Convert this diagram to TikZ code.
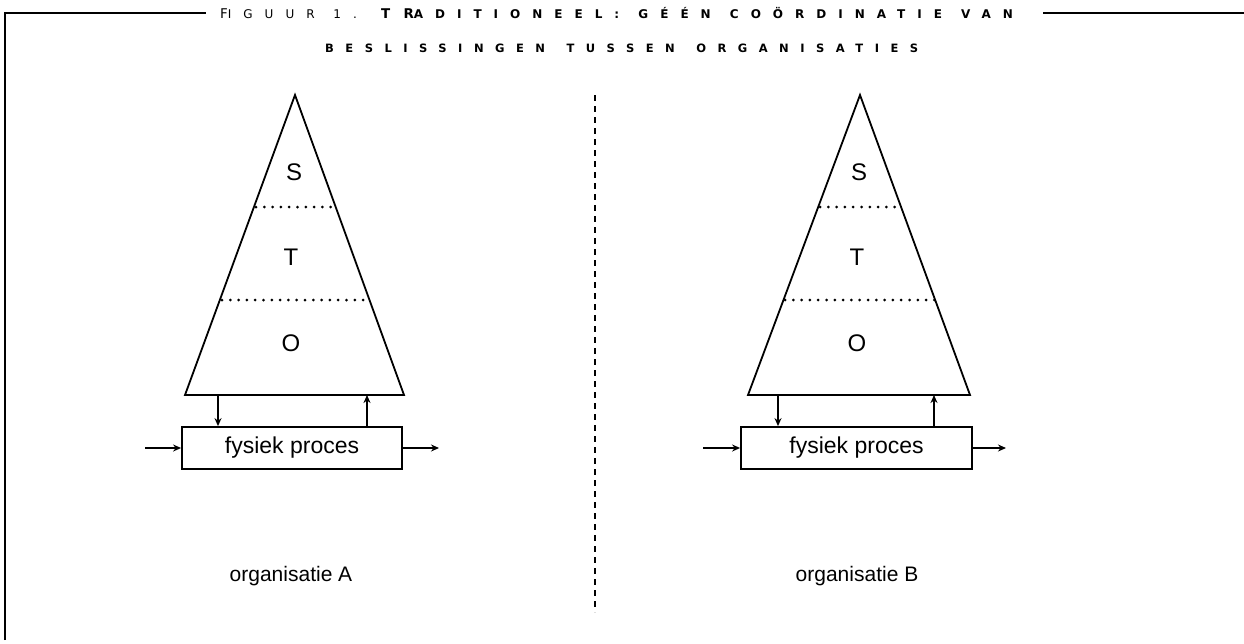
\documentclass[tikz,border=0pt]{standalone}
\usepackage{fontspec}
\setmainfont{Liberation Sans}
\newfontfamily\titlefont[LetterSpace=100]{DejaVu Sans}
\usetikzlibrary{arrows.meta}
\tikzset{
  edge/.style={line width=1.8pt, line join=miter},
  sep/.style={line width=3pt, line cap=round, dash pattern=on 0pt off 8.3pt},
  arr/.style={line width=1.5pt, -{Stealth[length=8pt,width=7pt]}},
  procbox/.style={draw, line width=1.8pt, minimum width=220pt, minimum height=42pt, inner sep=0pt, font=\fontsize{23}{27}\selectfont},
  level/.style={font=\fontsize{24}{28}\selectfont, inner sep=0pt},
  orglabel/.style={font=\fontsize{21}{25}\selectfont, inner sep=0pt},
  frame/.style={line width=1.6pt},
}
\newcommand\bigL[1]{{\fontsize{13.4}{14}\selectfont #1}}
\begin{document}
\begin{tikzpicture}[x=1pt,y=-1pt]
\useasboundingbox (0,0) rectangle (1244,643);
% title
\node[anchor=base west, inner sep=0pt] (t1) at (220,18.5) {\titlefont\fontsize{12}{14}\selectfont \bigL{F}IGUUR\hspace{3pt} 1.\hspace{3pt} \bfseries\bigL{TR}ADITIONEEL:\hspace{3pt} GÉÉN\hspace{3pt} COÖRDINATIE\hspace{3pt} VAN};
\node[anchor=base west, inner sep=0pt] (t2) at (325,52) {\titlefont\bfseries\fontsize{11.5}{14}\selectfont BESLISSINGEN\hspace{6pt} TUSSEN\hspace{6pt} ORGANISATIES};
\coordinate (fb) at (5,640);
\coordinate (fc) at (5,13);
\coordinate (fd) at (206,13);
\coordinate (ff) at (1043,13);
\coordinate (fe) at (1244,13);
\draw[frame] (fb) -- (fc) -- (fd);
\draw[frame] (ff) -- (fe);
% divider
\coordinate (d1) at (595,95);
\coordinate (d2) at (595,612);
\draw[line width=1.2pt, dash pattern=on 6pt off 5pt] (d1) -- (d2);
% organisation A
\coordinate (aA) at (295,95);
\coordinate (lA) at (185,395);
\coordinate (rA) at (404,395);
\draw[edge] (aA) -- (lA) -- (rA) -- cycle;
\draw[sep] (256,207) -- (336,207);
\draw[sep] (222,300) -- (366,300);
\node[level] (sA) at (294,172) {S};
\node[level] (tA) at (291,257) {T};
\node[level] (oA) at (291,343) {O};
\node[procbox] (pA) at (292,448) {fysiek proces};
\coordinate (dnA) at (218,395);
\coordinate (upA) at (367,395);
\coordinate (inA) at (145,448);
\coordinate (outA) at (439,448);
\draw[arr] (dnA) -- (dnA |- pA.north);
\draw[arr] (upA |- pA.north) -- (upA);
\draw[arr] (inA) -- (pA.west);
\draw[arr] (pA.east) -- (outA);
\node[orglabel] (oLA) at (291,576) {organisatie A};
% organisation B
\coordinate (aB) at (860,95);
\coordinate (lB) at (748,395);
\coordinate (rB) at (970,395);
\draw[edge] (aB) -- (lB) -- (rB) -- cycle;
\draw[sep] (820,207) -- (900,207);
\draw[sep] (785,300) -- (935,300);
\node[level] (sB) at (859,172) {S};
\node[level] (tB) at (857,257) {T};
\node[level] (oB) at (857,343) {O};
\node[procbox, minimum width=231pt] (pB) at (856.5,448) {fysiek proces};
\coordinate (dnB) at (778,395);
\coordinate (upB) at (934,395);
\coordinate (inB) at (703,448);
\coordinate (outB) at (1006,448);
\draw[arr] (dnB) -- (dnB |- pB.north);
\draw[arr] (upB |- pB.north) -- (upB);
\draw[arr] (inB) -- (pB.west);
\draw[arr] (pB.east) -- (outB);
\node[orglabel] (oLB) at (857,576) {organisatie B};
\end{tikzpicture}
\end{document}
